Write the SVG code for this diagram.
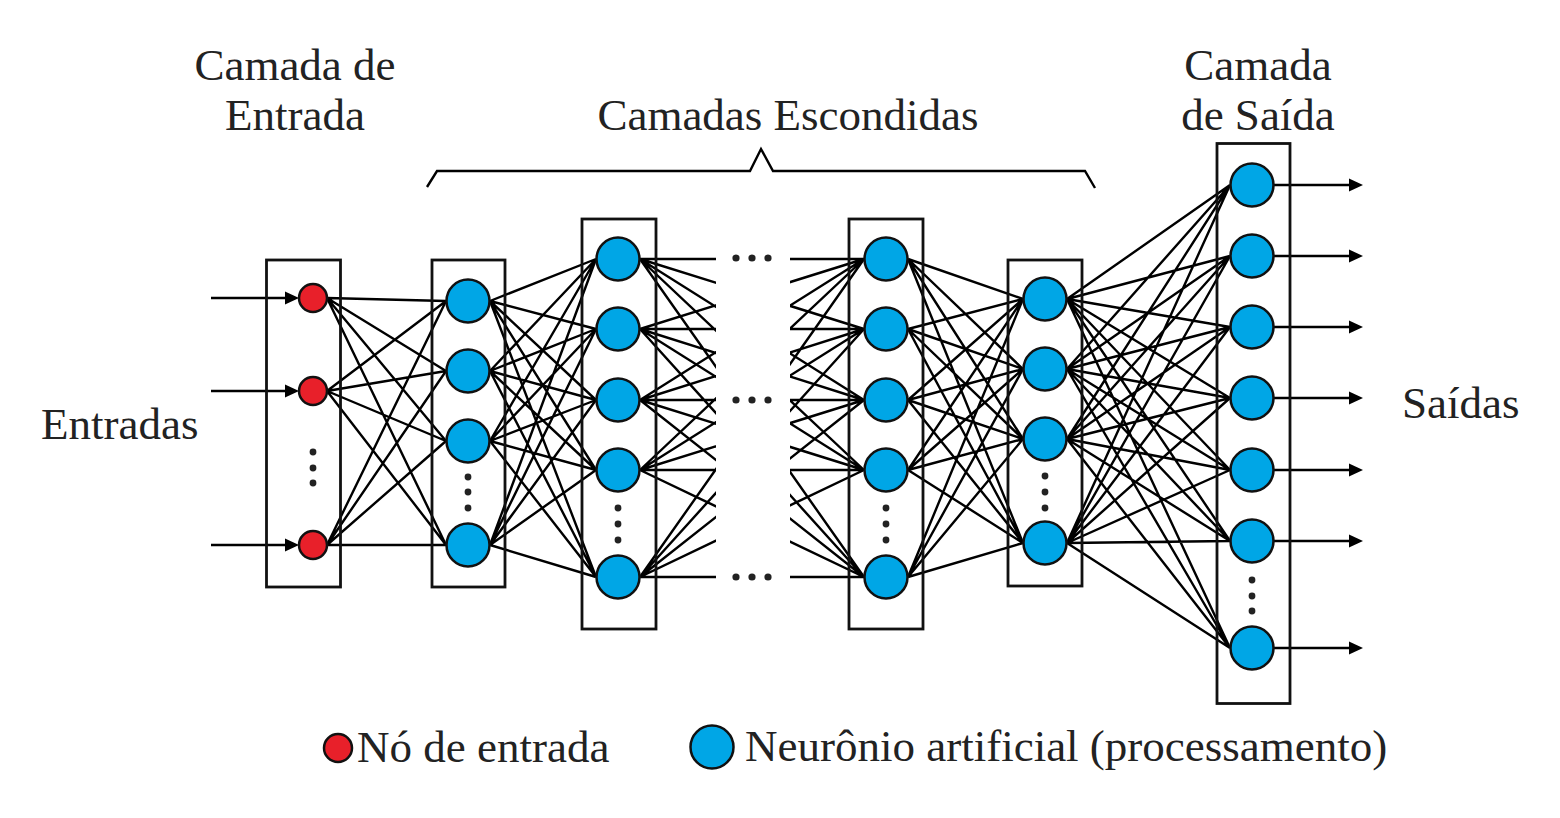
<svg xmlns="http://www.w3.org/2000/svg" width="1560" height="818" viewBox="0 0 1560 818">
<style>
text{font-family:"Liberation Serif","Times New Roman",serif;font-size:45px;fill:#222}
.box{fill:none;stroke:#111;stroke-width:2.8}
.in{fill:#E8202A;stroke:#111;stroke-width:2.5}
.hn{fill:#00A6E6;stroke:#111;stroke-width:2.5}
.c{fill:none;stroke:#000;stroke-width:2.4}
.a{fill:none;stroke:#000;stroke-width:2.4;marker-end:url(#arr)}
.dot{fill:#222}
</style>
<defs>
<marker id="arr" markerUnits="userSpaceOnUse" markerWidth="14" markerHeight="14" refX="10" refY="7" orient="auto">
<path d="M0 0.5L14 7L0 13.5z" fill="#000"/>
</marker>
<clipPath id="gap">
<rect x="0" y="0" width="716" height="818"/>
<rect x="790" y="0" width="770" height="818"/>
</clipPath>
</defs>
<rect width="1560" height="818" fill="#fff"/>

<g id="labels">
<text x="295" y="80" text-anchor="middle">Camada de</text>
<text x="295" y="130" text-anchor="middle">Entrada</text>
<text x="788" y="130" text-anchor="middle">Camadas Escondidas</text>
<text x="1258" y="80" text-anchor="middle">Camada</text>
<text x="1258" y="130" text-anchor="middle">de Saída</text>
<text x="41" y="439">Entradas</text>
<text x="1402" y="418">Saídas</text>
<path d="M427 187L437 171H750L761 149L773 171H1085L1095 188" class="c"/>
</g>

<g id="connectors">
<line class="a" x1="211" y1="298" x2="295" y2="298"/>
<line class="a" x1="211" y1="391" x2="295" y2="391"/>
<line class="a" x1="211" y1="545" x2="295" y2="545"/>
<path class="c" d="M327 298L446 301M327 298L446 371M327 298L446 441M327 298L446 545M327 391L446 301M327 391L446 371M327 391L446 441M327 391L446 545M327 545L446 301M327 545L446 371M327 545L446 441M327 545L446 545"/>
<path class="c" d="M490 301L596 259M490 301L596 329M490 301L596 400M490 301L596 470M490 301L596 577M490 371L596 259M490 371L596 329M490 371L596 400M490 371L596 470M490 371L596 577M490 441L596 259M490 441L596 329M490 441L596 400M490 441L596 470M490 441L596 577M490 545L596 259M490 545L596 329M490 545L596 400M490 545L596 470M490 545L596 577"/>
<path class="c" clip-path="url(#gap)" d="M640 259L864 259M640 259L864 329M640 259L864 400M640 259L864 470M640 259L864 577M640 329L864 259M640 329L864 329M640 329L864 400M640 329L864 470M640 329L864 577M640 400L864 259M640 400L864 329M640 400L864 400M640 400L864 470M640 400L864 577M640 470L864 259M640 470L864 329M640 470L864 400M640 470L864 470M640 470L864 577M640 577L864 259M640 577L864 329M640 577L864 400M640 577L864 470M640 577L864 577"/>
<path class="c" d="M908 259L1023 299M908 259L1023 369M908 259L1023 439M908 259L1023 543M908 329L1023 299M908 329L1023 369M908 329L1023 439M908 329L1023 543M908 400L1023 299M908 400L1023 369M908 400L1023 439M908 400L1023 543M908 470L1023 299M908 470L1023 369M908 470L1023 439M908 470L1023 543M908 577L1023 299M908 577L1023 369M908 577L1023 439M908 577L1023 543"/>
<path class="c" d="M1067 299L1230 185M1067 299L1230 256M1067 299L1230 327M1067 299L1230 398M1067 299L1230 470M1067 299L1230 541M1067 299L1230 648M1067 369L1230 185M1067 369L1230 256M1067 369L1230 327M1067 369L1230 398M1067 369L1230 470M1067 369L1230 541M1067 369L1230 648M1067 439L1230 185M1067 439L1230 256M1067 439L1230 327M1067 439L1230 398M1067 439L1230 470M1067 439L1230 541M1067 439L1230 648M1067 543L1230 185M1067 543L1230 256M1067 543L1230 327M1067 543L1230 398M1067 543L1230 470M1067 543L1230 541M1067 543L1230 648"/>
<line class="a" x1="1274" y1="185" x2="1359" y2="185"/>
<line class="a" x1="1274" y1="256" x2="1359" y2="256"/>
<line class="a" x1="1274" y1="327" x2="1359" y2="327"/>
<line class="a" x1="1274" y1="398" x2="1359" y2="398"/>
<line class="a" x1="1274" y1="470" x2="1359" y2="470"/>
<line class="a" x1="1274" y1="541" x2="1359" y2="541"/>
<line class="a" x1="1274" y1="648" x2="1359" y2="648"/>
</g>

<g id="input-layer">
<rect class="box" x="266.5" y="260" width="74" height="327"/>
<circle class="in" cx="313" cy="298" r="14"/>
<circle class="in" cx="313" cy="391" r="14"/>
<circle class="in" cx="313" cy="545" r="14"/>
<circle class="dot" cx="313" cy="452" r="3.4"/>
<circle class="dot" cx="313" cy="468" r="3.4"/>
<circle class="dot" cx="313" cy="483" r="3.4"/>
</g>

<g id="hidden-layer-1">
<rect class="box" x="432" y="260" width="73" height="327"/>
<circle class="hn" cx="468" cy="301" r="21.5"/>
<circle class="hn" cx="468" cy="371" r="21.5"/>
<circle class="hn" cx="468" cy="441" r="21.5"/>
<circle class="hn" cx="468" cy="545" r="21.5"/>
<circle class="dot" cx="468" cy="477" r="3.4"/>
<circle class="dot" cx="468" cy="492" r="3.4"/>
<circle class="dot" cx="468" cy="508" r="3.4"/>
</g>

<g id="hidden-layer-2">
<rect class="box" x="582" y="219" width="74" height="410"/>
<circle class="hn" cx="618" cy="259" r="21.5"/>
<circle class="hn" cx="618" cy="329" r="21.5"/>
<circle class="hn" cx="618" cy="400" r="21.5"/>
<circle class="hn" cx="618" cy="470" r="21.5"/>
<circle class="hn" cx="618" cy="577" r="21.5"/>
<circle class="dot" cx="618" cy="508" r="3.4"/>
<circle class="dot" cx="618" cy="524" r="3.4"/>
<circle class="dot" cx="618" cy="540" r="3.4"/>
</g>

<g id="ellipsis">
<circle class="dot" cx="736" cy="258" r="3.6"/>
<circle class="dot" cx="752" cy="258" r="3.6"/>
<circle class="dot" cx="768" cy="258" r="3.6"/>
<circle class="dot" cx="736" cy="400" r="3.6"/>
<circle class="dot" cx="752" cy="400" r="3.6"/>
<circle class="dot" cx="768" cy="400" r="3.6"/>
<circle class="dot" cx="736" cy="577" r="3.6"/>
<circle class="dot" cx="752" cy="577" r="3.6"/>
<circle class="dot" cx="768" cy="577" r="3.6"/>
</g>

<g id="hidden-layer-3">
<rect class="box" x="849" y="219" width="74" height="410"/>
<circle class="hn" cx="886" cy="259" r="21.5"/>
<circle class="hn" cx="886" cy="329" r="21.5"/>
<circle class="hn" cx="886" cy="400" r="21.5"/>
<circle class="hn" cx="886" cy="470" r="21.5"/>
<circle class="hn" cx="886" cy="577" r="21.5"/>
<circle class="dot" cx="886" cy="508" r="3.4"/>
<circle class="dot" cx="886" cy="524" r="3.4"/>
<circle class="dot" cx="886" cy="540" r="3.4"/>
</g>

<g id="hidden-layer-4">
<rect class="box" x="1008" y="260" width="74" height="326"/>
<circle class="hn" cx="1045" cy="299" r="21.5"/>
<circle class="hn" cx="1045" cy="369" r="21.5"/>
<circle class="hn" cx="1045" cy="439" r="21.5"/>
<circle class="hn" cx="1045" cy="543" r="21.5"/>
<circle class="dot" cx="1045" cy="476" r="3.4"/>
<circle class="dot" cx="1045" cy="492" r="3.4"/>
<circle class="dot" cx="1045" cy="508" r="3.4"/>
</g>

<g id="output-layer">
<rect class="box" x="1217" y="143.5" width="73" height="560"/>
<circle class="hn" cx="1252" cy="185" r="21.5"/>
<circle class="hn" cx="1252" cy="256" r="21.5"/>
<circle class="hn" cx="1252" cy="327" r="21.5"/>
<circle class="hn" cx="1252" cy="398" r="21.5"/>
<circle class="hn" cx="1252" cy="470" r="21.5"/>
<circle class="hn" cx="1252" cy="541" r="21.5"/>
<circle class="hn" cx="1252" cy="648" r="21.5"/>
<circle class="dot" cx="1252" cy="580" r="3.4"/>
<circle class="dot" cx="1252" cy="596" r="3.4"/>
<circle class="dot" cx="1252" cy="611" r="3.4"/>
</g>

<g id="legend">
<circle class="in" cx="338" cy="748" r="14"/>
<text x="357" y="762">Nó de entrada</text>
<circle class="hn" cx="712" cy="747" r="21.5"/>
<text x="745" y="761">Neurônio artificial (processamento)</text>
</g>
</svg>
